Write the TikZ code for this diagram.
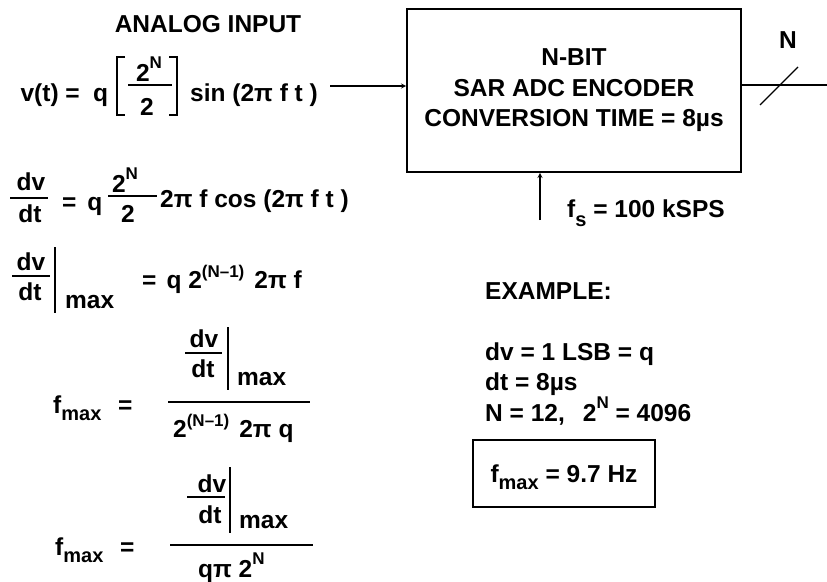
\documentclass[tikz,border=0pt]{standalone}
\usepackage{fontspec}
\setmainfont{Liberation Sans}
\usepackage{tikz}
\usetikzlibrary{arrows, positioning}

\newcommand{\upidx}[2][13pt]{\raisebox{#1}{\fontsize{17}{17}\selectfont #2}}
\newcommand{\dnidx}[2][-7pt]{\raisebox{#1}{\fontsize{20}{20}\selectfont #2}}

\begin{document}
\begin{tikzpicture}[x=1pt, y=-1pt,
        txt/.style={inner sep=0pt, anchor=base west, font=\fontsize{24.5}{30}\selectfont\bfseries},
        ctxt/.style={txt, anchor=base},
        encoder/.style={draw, line width=1.6pt, minimum width=334pt, minimum height=163pt, align=center, font=\fontsize{24.5}{30.5}\selectfont\bfseries},
        result/.style={draw, line width=1.6pt, minimum width=182pt, minimum height=67pt, inner sep=0pt, text depth=0pt, font=\fontsize{24.5}{30}\selectfont\bfseries},
        rule/.style={line width=1.6pt},
        arrow/.style={line width=1.3pt, ->, >=stealth}
    ]
    \useasboundingbox (0,0) rectangle (827,581);

    % ADC block with input, clock and output bus
    \node (enc) [encoder] at (574,90.5) {N-BIT\\SAR ADC ENCODER\\CONVERSION TIME = 8µs};
    \node (title) [ctxt] at (208,32) {ANALOG INPUT};
    \coordinate (ain) at (330,86);
    \draw [arrow] (ain) -- (ain -| enc.west);
    \coordinate (bus) at (827,85);
    \draw [line width=1.3pt] (enc.east |- bus) -- (bus);
    \draw [line width=1.3pt] (760,105) -- (798,67);
    \node (nbits) [ctxt] at (788,48) {N};
    \coordinate (clk) at (540,220);
    \draw [arrow] (clk) -- (clk |- enc.south);
    \node (fs) [txt] at (567,217) {f\dnidx[-9pt]{s} = 100 kSPS};

    % v(t)
    \node (vt) [txt, anchor=base east] at (80,101) {v(t) =};
    \node (vq) [txt] at (93,101) {q};
    \node (vnum) [ctxt] at (149,81) {2\upidx{N}};
    \node (vden) [ctxt] at (147,115) {2};
    \draw [rule] (128,85) -- (172,85);
    \draw [rule] (125,57) -| (117,115) -- (125,115);
    \draw [rule] (169,57) -| (177,115) -- (169,115);
    \node (vsin) [txt] at (190,101) {sin (2π f t )};

    % dv/dt
    \node (d1n) [ctxt] at (31,190) {dv};
    \draw [rule] (10,198) -- (48,198);
    \node (d1d) [ctxt] at (30,222) {dt};
    \node (d1eq) [txt] at (62,210) {=\hspace{11pt}q};
    \node (d1a) [ctxt] at (125,192) {2\upidx{N}};
    \draw [rule] (108,196) -- (157,196);
    \node (d1b) [ctxt] at (128,222) {2};
    \node (d1c) [txt] at (160,207) {2π f cos (2π f t )};

    % dv/dt at max
    \node (d2n) [ctxt] at (31,270) {dv};
    \draw [rule] (12,276) -- (50,276);
    \node (d2d) [ctxt] at (30,300) {dt};
    \draw [rule] (55,247) -- (55,313);
    \node (d2m) [txt] at (65,308) {max};
    \node (d2r) [txt] at (142,288) {=\hspace{10pt}q 2\upidx[11pt]{(N–1)}\hspace{10pt}2π f};

    % f max, first form
    \node (f1) [txt] at (53,413) {f\dnidx{max}};
    \node (f1eq) [txt] at (118,413) {=};
    \draw [rule] (168,402) -- (310,402);
    \node (f1n) [ctxt] at (204,347) {dv};
    \draw [rule] (185,353) -- (222,353);
    \node (f1d) [ctxt] at (203,377) {dt};
    \draw [rule] (228,327) -- (228,390);
    \node (f1m) [txt] at (237,385) {max};
    \node (f1den) [txt] at (173,437) {2\upidx[11pt]{(N–1)}\hspace{10pt}2π q};

    % f max, second form
    \node (f2) [txt] at (55,555) {f\dnidx{max}};
    \node (f2eq) [txt] at (120,555) {=};
    \draw [rule] (170,545) -- (313,545);
    \node (f2n) [ctxt] at (212,492) {dv};
    \draw [rule] (187,497) -- (225,497);
    \node (f2d) [ctxt] at (210,523) {dt};
    \draw [rule] (230,467) -- (230,533);
    \node (f2m) [txt] at (239,528) {max};
    \node (f2den) [txt] at (198,577) {qπ 2\upidx{N}};

    % example
    \node (exhead) [txt] at (485,299) {EXAMPLE:};
    \node (ex1) [txt] at (485,360) {dv = 1 LSB = q};
    \node (ex2) [txt] at (485,390) {dt = 8µs};
    \node (ex3) [txt] at (485,421) {N = 12,\hspace{18pt}2\upidx{N} = 4096};
    \node (fres) [result] at (564,473.5) {f\dnidx{max} = 9.7 Hz};
\end{tikzpicture}
\end{document}
